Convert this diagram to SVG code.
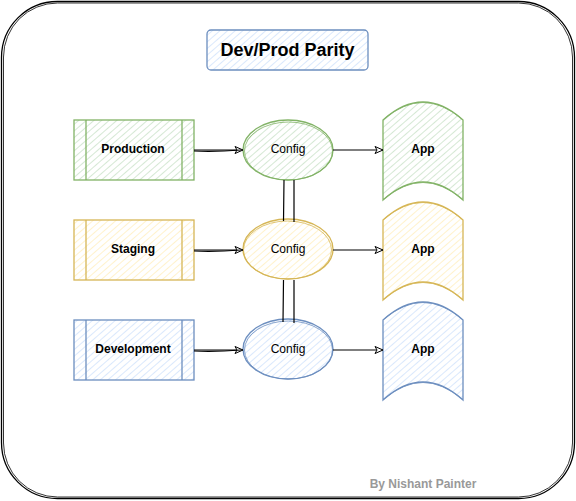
<svg xmlns="http://www.w3.org/2000/svg" width="576" height="501" viewBox="0 0 576 501">
<defs>
<pattern id="hg" width="5" height="5" patternUnits="userSpaceOnUse" patternTransform="rotate(-41)"><line x1="0" y1="2.5" x2="5" y2="2.5" stroke="#d5e8d4" stroke-width="1"/></pattern>
<pattern id="hy" width="5" height="5" patternUnits="userSpaceOnUse" patternTransform="rotate(-41)"><line x1="0" y1="2.5" x2="5" y2="2.5" stroke="#fff2cc" stroke-width="1"/></pattern>
<pattern id="hb" width="5" height="5" patternUnits="userSpaceOnUse" patternTransform="rotate(-41)"><line x1="0" y1="2.5" x2="5" y2="2.5" stroke="#dae8fc" stroke-width="1"/></pattern>
<marker id="ah" markerWidth="10" markerHeight="10" refX="9" refY="5" orient="auto" markerUnits="userSpaceOnUse"><path d="M1,1.5 L9,5 L1,8.5 L3,5 Z" fill="#fff" stroke="#000" stroke-width="1"/></marker>
</defs>
<style>
.g{fill:url(#hg);stroke:#82b366;stroke-width:1.3}
.y{fill:url(#hy);stroke:#d6b656;stroke-width:1.3}
.b{fill:url(#hb);stroke:#6c8ebf;stroke-width:1.3}
.t{font-family:"Liberation Sans",Arial,sans-serif;font-size:12px;text-anchor:middle;dominant-baseline:central;fill:#000}
.bold{font-weight:bold}
.conn{stroke:#000;stroke-width:1.2;fill:none}
</style>
<rect x="1.5" y="1.5" width="573" height="497" rx="56" ry="56" fill="#fff" stroke="#000" stroke-width="1.3"/>
<rect x="3.5" y="3" width="569" height="494" rx="54" ry="54" fill="none" stroke="#000" stroke-width="0.8"/>

<g id="title">
<rect x="207" y="30" width="161" height="40" rx="4" class="b"/>
<text x="287.5" y="50" class="t bold" style="font-size:18px">Dev/Prod Parity</text>
</g>

<g id="production">
<rect x="74" y="120" width="120" height="60" class="g"/>
<line x1="86" y1="120" x2="86" y2="180" stroke="#82b366" stroke-width="1.3"/>
<line x1="182" y1="120" x2="182" y2="180" stroke="#82b366" stroke-width="1.3"/>
<text x="133" y="149" class="t bold">Production</text>
</g>
<g id="staging">
<rect x="74" y="220" width="120" height="60" class="y"/>
<line x1="86" y1="220" x2="86" y2="280" stroke="#d6b656" stroke-width="1.3"/>
<line x1="182" y1="220" x2="182" y2="280" stroke="#d6b656" stroke-width="1.3"/>
<text x="133" y="249" class="t bold">Staging</text>
</g>
<g id="development">
<rect x="74" y="320" width="120" height="60" class="b"/>
<line x1="86" y1="320" x2="86" y2="380" stroke="#6c8ebf" stroke-width="1.3"/>
<line x1="182" y1="320" x2="182" y2="380" stroke="#6c8ebf" stroke-width="1.3"/>
<text x="133" y="349" class="t bold">Development</text>
</g>

<g id="config-prod">
<ellipse cx="288" cy="150" rx="45" ry="30" class="g"/>
<ellipse cx="288.5" cy="151" rx="44" ry="29" fill="none" stroke="#82b366" stroke-width="0.8"/>
<text x="288" y="149" class="t">Config</text>
</g>
<g id="config-staging">
<ellipse cx="288" cy="249" rx="45" ry="30" class="y"/>
<ellipse cx="287.5" cy="250" rx="44" ry="29" fill="none" stroke="#d6b656" stroke-width="0.8"/>
<text x="288" y="249" class="t">Config</text>
</g>
<g id="config-dev">
<ellipse cx="288" cy="349" rx="45" ry="30" class="b"/>
<ellipse cx="288.5" cy="350" rx="44" ry="29" fill="none" stroke="#6c8ebf" stroke-width="0.8"/>
<text x="288" y="349" class="t">Config</text>
</g>

<g id="app-prod">
<path d="M383,120 Q423,84 463,120 L463,200 Q423,164 383,200 Z" class="g"/>
<path d="M384,119 Q423,86 462,119 M384,199 Q423,166 462,199" fill="none" stroke="#82b366" stroke-width="0.8"/>
<text x="423" y="149" class="t bold">App</text>
</g>
<g id="app-staging">
<path d="M383,220 Q423,184 463,220 L463,300 Q423,264 383,300 Z" class="y"/>
<path d="M384,219 Q423,186 462,219 M384,299 Q423,266 462,299" fill="none" stroke="#d6b656" stroke-width="0.8"/>
<text x="423" y="249" class="t bold">App</text>
</g>
<g id="app-dev">
<path d="M383,320 Q423,284 463,320 L463,400 Q423,364 383,400 Z" class="b"/>
<path d="M384,319 Q423,286 462,319 M384,399 Q423,366 462,399" fill="none" stroke="#6c8ebf" stroke-width="0.8"/>
<text x="423" y="349" class="t bold">App</text>
</g>

<g id="connectors">
<path d="M194,150 L243,150" class="conn" marker-end="url(#ah)"/>
<path d="M194,151 Q215,152 241,150" class="conn" stroke-width="0.7"/>
<path d="M194,250 L243,250" class="conn" marker-end="url(#ah)"/>
<path d="M194,251 Q215,252 241,250" class="conn" stroke-width="0.7"/>
<path d="M194,350 L243,350" class="conn" marker-end="url(#ah)"/>
<path d="M194,351 Q215,352 241,350" class="conn" stroke-width="0.7"/>
<path d="M333,150 L383,150" class="conn" marker-end="url(#ah)"/>
<path d="M333,250 L383,250" class="conn" marker-end="url(#ah)"/>
<path d="M333,350 L383,350" class="conn" marker-end="url(#ah)"/>
<path d="M284,180 L283.5,221 M294,180 L294,222" class="conn"/>
<path d="M283.5,280 L283,322 M294,280 L294,323" class="conn"/>
</g>

<text x="423" y="484" class="t bold" style="fill:#999">By Nishant Painter</text>
</svg>
